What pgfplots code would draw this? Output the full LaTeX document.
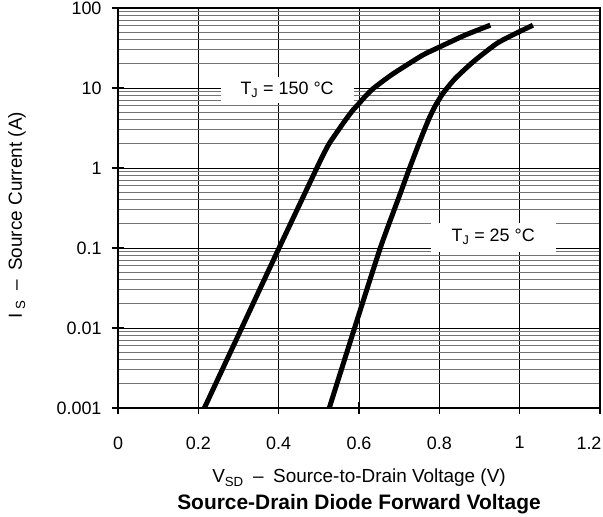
\documentclass[border=0pt]{standalone}
\usepackage{fontspec}
\setmainfont{Liberation Sans}
\usepackage{pgfplots}
\usepackage{pgfplotstable}
\pgfplotsset{compat=1.18}
\pgfplotstableread{
x y
0.215 0.001
0.308 0.01
0.401 0.1
0.495 1
0.51 1.43
0.525 1.99
0.545 2.8
0.565 3.9
0.585 5.3
0.60 6.4
0.615 7.8
0.636 9.9
0.68 14.5
0.719 19.4
0.76 26
0.802 32.8
0.865 46
0.927 61
}\hot
\pgfplotstableread{
x y
0.526 0.001
0.589 0.01
0.653 0.1
0.70 0.44
0.723 0.91
0.748 1.95
0.773 4.0
0.79 6.0
0.81 8.7
0.84 13.2
0.885 21.4
0.943 36
0.99 48
1.033 61
}\cold
\begin{document}
\begin{tikzpicture}
\path[use as bounding box] (-118bp,-109bp) rectangle (485bp,408bp);
\begin{axis}[
  at={(0,0)}, anchor=south west,
  scale only axis, width=482bp, height=400bp,
  xmin=0, xmax=1.2, ymode=log, ymin=0.001, ymax=100,
  xtick={0,0.2,0.4,0.6,0.8,1,1.2},
  xticklabels={0,0.2,0.4,0.6,0.8,1,\hspace*{-22bp}1.2},
  ytick={0.001,0.01,0.1,1,10,100},
  yticklabels={0.001,0.01,0.1,1,10,100},
  minor ytick={0.002,0.003,0.004,0.005,0.006,0.007,0.008,0.009,
    0.02,0.03,0.04,0.05,0.06,0.07,0.08,0.09,
    0.2,0.3,0.4,0.5,0.6,0.7,0.8,0.9,
    2,3,4,5,6,7,8,9,20,30,40,50,60,70,80,90},
  xtick pos=bottom, ytick pos=left,
  xmajorgrids, ymajorgrids, yminorgrids,
  major grid style={black, line width=0.8bp},
  minor grid style={black!55, line width=1.1bp},
  axis line style={line width=1.6bp},
  tick align=center, major tick length=12bp, minor tick length=0pt,
  major tick style={black, line width=1.6bp},
  tick label style={font=\fontsize{18}{21}\selectfont},
  xticklabel shift=19bp, yticklabel shift=7bp,
  xlabel={V\textsubscript{SD}\enspace–\enspace Source-to-Drain Voltage (V)},
  xlabel style={at={(axis description cs:0.5,-0.175)}, anchor=center, font=\fontsize{19}{22}\selectfont},
  ylabel={I\,\textsubscript{S}\enspace–\enspace Source Current (A)},
  ylabel style={at={(axis description cs:-0.2095,0.4825)}, anchor=center, font=\fontsize{19}{22}\selectfont},
  title={Source-Drain Diode Forward Voltage},
  title style={at={(axis description cs:0.5,-0.255)}, anchor=center, font=\bfseries\fontsize{21}{24}\selectfont},
]
\addplot[black, line width=5bp, smooth, tension=0.4] table[x=x,y=y] {\hot};
\addplot[black, line width=5bp, smooth, tension=0.4] table[x=x,y=y] {\cold};
\node[fill=white, inner sep=0pt, minimum width=133bp, minimum height=26bp, font=\fontsize{18}{21}\selectfont] at (axis cs:0.421,9.44) {T\textsubscript{J} = 150 °C};
\node[fill=white, inner sep=0pt, minimum width=125bp, minimum height=29bp, font=\fontsize{18}{21}\selectfont] at (axis cs:0.934,0.137) {T\textsubscript{J} = 25 °C};
\end{axis}
\end{tikzpicture}
\end{document}
